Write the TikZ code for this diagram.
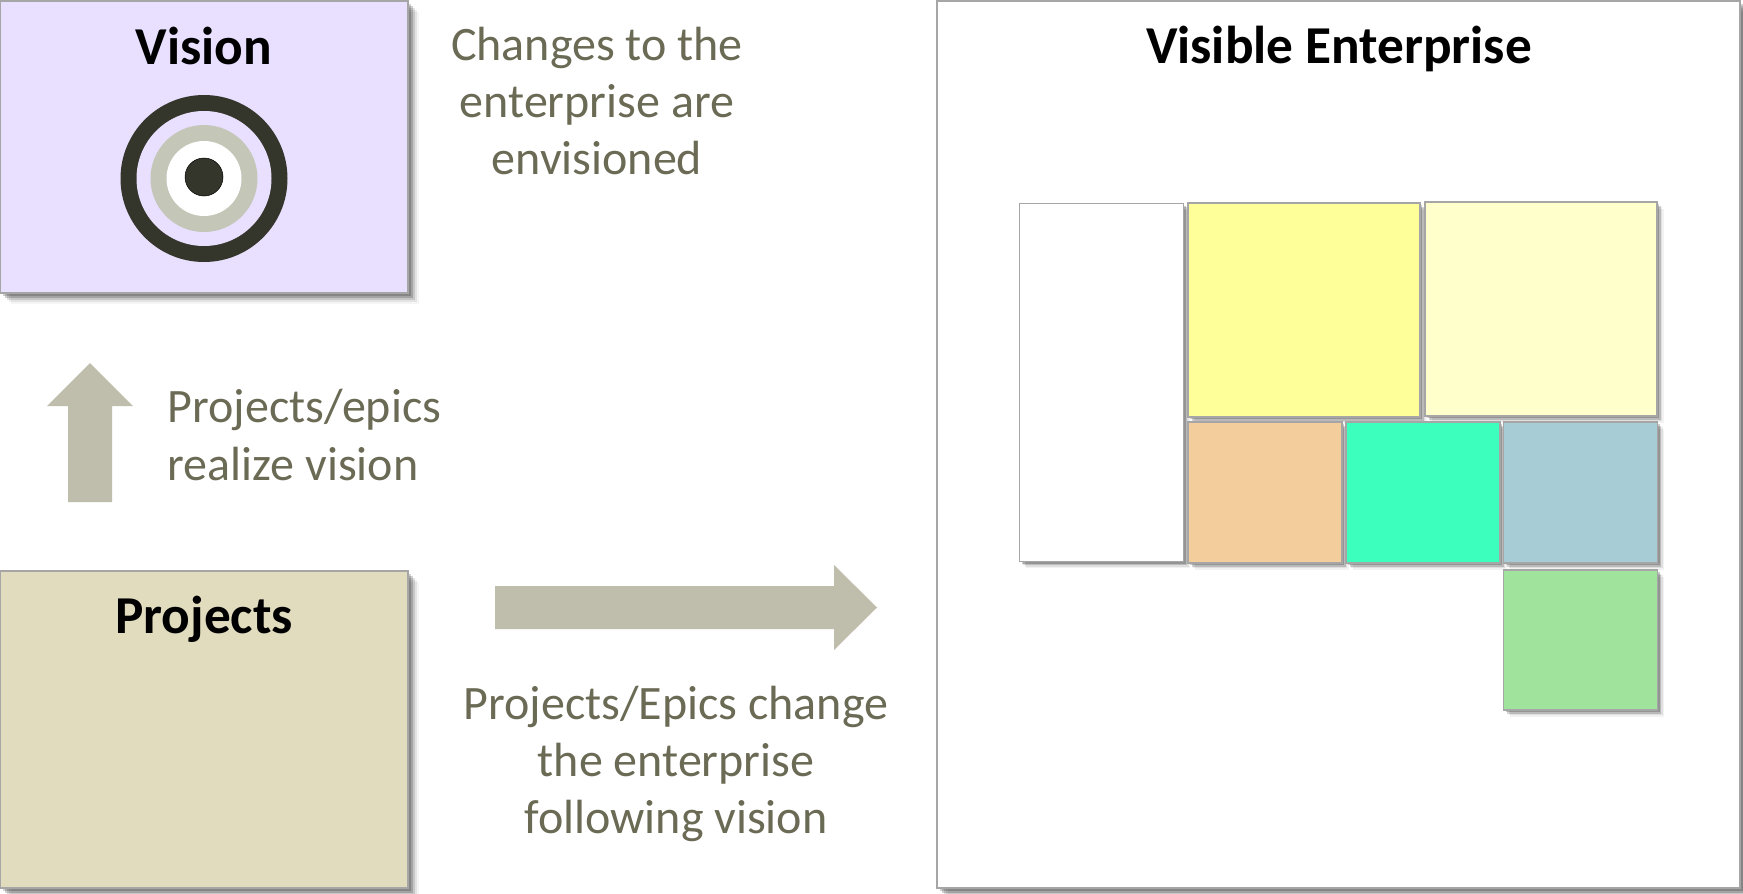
\documentclass[tikz,border=0pt]{standalone}
\usepackage{fontspec}
\setmainfont{Carlito}
\usetikzlibrary{shadows}
\definecolor{dark}{HTML}{35362B}
\definecolor{ring}{HTML}{C4C6B8}
\definecolor{arrowc}{HTML}{BFBDAB}
\definecolor{note}{HTML}{6B6A55}
\definecolor{edge}{HTML}{A6A6A6}
\tikzset{
  bigshadow/.style={
    general shadow={shadow xshift=3pt,shadow yshift=-3pt,fill=black,opacity=.18},
    general shadow={shadow xshift=5pt,shadow yshift=-5pt,fill=black,opacity=.18},
    general shadow={shadow xshift=7pt,shadow yshift=-7pt,fill=black,opacity=.12},
    general shadow={shadow xshift=9pt,shadow yshift=-9pt,fill=black,opacity=.07},
    general shadow={shadow xshift=11pt,shadow yshift=-11pt,fill=black,opacity=.04}},
  smallshadow/.style={
    general shadow={shadow xshift=2pt,shadow yshift=-2pt,fill=black,opacity=.2},
    general shadow={shadow xshift=3.5pt,shadow yshift=-3.5pt,fill=black,opacity=.16},
    general shadow={shadow xshift=5pt,shadow yshift=-5pt,fill=black,opacity=.08},
    general shadow={shadow xshift=6.5pt,shadow yshift=-6.5pt,fill=black,opacity=.05}},
  box/.style={draw=edge,line width=1.6pt,rectangle,inner sep=0pt,outer sep=0pt},
  panel/.style={box,bigshadow},
  tile/.style={box,smallshadow},
  title/.style={font=\fontsize{53.3}{64}\selectfont\bfseries,text=black,inner sep=0pt},
  notetext/.style={font=\fontsize{48}{57.2}\selectfont,text=note,align=center,inner sep=0pt},
  dot/.style={circle,inner sep=0pt,outer sep=0pt},
  blockarrow/.style={fill=arrowc,draw=none}
}
\begin{document}
\begin{tikzpicture}[x=1pt,y=-1pt]
\useasboundingbox (0,0) rectangle (1743,894);
\fill[white] (0,0) rectangle (1743,894);
% main panels
\node[panel,fill=white,minimum width=803pt,minimum height=887pt] (ent) at (1338.5,444.5) {};
\node[tile,fill=white,minimum width=164pt,minimum height=358pt] (w) at (1101.5,382.5) {};
\node[tile,fill={rgb,255:red,255;green,255;blue,153},minimum width=232pt,minimum height=214pt] (y) at (1304,310) {};
\node[tile,fill={rgb,255:red,255;green,255;blue,204},minimum width=232pt,minimum height=214pt] (py) at (1541,309) {};
\node[tile,fill={rgb,255:red,243;green,205;blue,155},minimum width=154pt,minimum height=141pt] (o) at (1265,492.5) {};
\node[tile,fill={rgb,255:red,61;green,255;blue,189},minimum width=154pt,minimum height=141pt] (t) at (1423,492.5) {};
\node[tile,fill={rgb,255:red,168;green,204;blue,213},minimum width=154pt,minimum height=141pt] (b) at (1580.5,492.5) {};
\node[tile,fill={rgb,255:red,159;green,227;blue,156},minimum width=154pt,minimum height=140pt] (g) at (1580.5,640) {};
\node[panel,fill={rgb,255:red,233;green,223;blue,255},minimum width=408pt,minimum height=292pt] (vis) at (204,147) {};
\node[panel,fill={rgb,255:red,225;green,220;blue,190},minimum width=408pt,minimum height=317pt] (proj) at (204,729.5) {};
% target
\node[dot,fill=dark,minimum size=167pt] (c1) at (204,178.5) {};
\node[dot,fill={rgb,255:red,233;green,223;blue,255},minimum size=135pt] (c2) at (204,178.5) {};
\node[dot,fill=ring,minimum size=107pt] (c3) at (204,178.5) {};
\node[dot,fill=white,minimum size=75pt] (c4) at (204,178.5) {};
\node[dot,fill=dark,draw=black,line width=.5pt,minimum size=38pt] (c5) at (204,177) {};
% arrows
\fill[blockarrow] (90,363) -- (133,406) -- (112,406) -- (112,502) -- (68,502) -- (68,406) -- (47,406) -- cycle;
\fill[blockarrow] (495,586) -- (834,586) -- (834,565) -- (877,607.5) -- (834,650) -- (834,629) -- (495,629) -- cycle;
% titles
\node[title] (tv) at (204,46) {Vision};
\node[title] (tp) at (204,619) {Projects};
\node[title] (te) at (1339,49) {Visible Enterprise};
% notes
\node[notetext] (n1) at (597,101) {Changes to the\\enterprise are\\envisioned};
\node[notetext,align=left] (n2) at (304.5,435) {Projects/epics\\realize vision};
\node[notetext] (n3) at (676,764) {Projects/Epics change\\the enterprise\\following vision};
\end{tikzpicture}
\end{document}
